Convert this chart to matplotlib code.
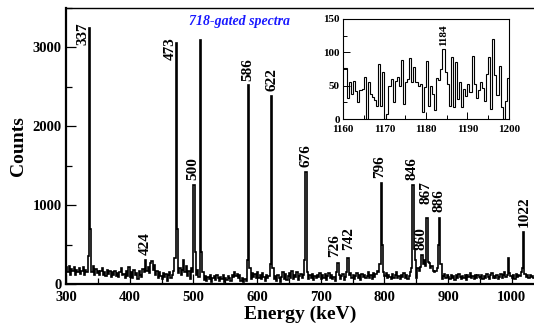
import numpy as np
import matplotlib
matplotlib.use("Agg")
import matplotlib.pyplot as plt
from matplotlib.ticker import MultipleLocator

plt.rcParams['font.family'] = ['Liberation Serif', 'DejaVu Serif']

# main spectrum: 2 keV bins starting at 300 keV
E_START, BIN = 300, 2
counts = [
    # 300-348
    210, 150, 230, 120, 190, 160, 220, 110, 180, 150, 200, 130, 170, 210, 120, 180, 150, 360, 3250, 700, 150, 230, 120, 190, 140,
    # 350-398
    170, 110, 160, 200, 120, 150, 100, 180, 130, 160, 90, 150, 120, 170, 100, 140, 90, 150, 200, 110, 130, 80, 160, 100, 210,
    # 400-448
    90, 150, 70, 180, 110, 140, 60, 170, 120, 90, 190, 150, 300, 170, 220, 140, 260, 290, 180, 240, 120, 170, 80, 150, 100,
    # 450-498
    60, 140, 90, 130, 40, 120, 150, 70, 110, 160, 330, 3060, 700, 140, 200, 110, 180, 310, 150, 230, 100, 170, 60, 200, 150,
    # 500-548
    1253, 400, 120, 180, 90, 3100, 400, 150, 50, 100, 40, 90, 60, 110, 30, 80, 100, 50, 120, 70, 40, 90, 60, 110, 30,
    # 550-598
    80, 50, 100, 70, 40, 120, 90, 150, 100, 130, 80, 110, 40, 70, 30, 60, 40, 300, 2520, 200, 60, 140, 90, 130, 70,
    # 600-648
    150, 80, 120, 60, 140, 90, 40, 110, 70, 100, 250, 2390, 200, 60, 100, 40, 120, 70, 30, 90, 150, 60, 130, 50, 100,
    # 650-698
    140, 80, 160, 60, 120, 90, 150, 50, 100, 130, 70, 110, 300, 1420, 150, 60, 110, 80, 130, 50, 100, 70, 120, 90, 140,
    # 700-748
    60, 110, 80, 130, 50, 100, 140, 70, 110, 60, 90, 40, 150, 265, 110, 60, 100, 130, 50, 90, 150, 330, 110, 140, 70,
    # 750-798
    120, 60, 100, 140, 80, 110, 50, 130, 90, 120, 70, 100, 150, 80, 120, 60, 140, 90, 130, 170, 150, 250, 1280, 500, 150,
    # 800-848
    100, 140, 70, 120, 90, 60, 130, 80, 110, 150, 70, 100, 60, 120, 90, 140, 80, 110, 60, 100, 150, 200, 1250, 450, 300,
    # 850-898
    80, 200, 170, 220, 365, 250, 300, 230, 835, 280, 260, 200, 230, 170, 150, 160, 200, 500, 835, 250, 60, 100, 130, 80, 110,
    # 900-948
    90, 60, 120, 80, 100, 50, 110, 70, 130, 90, 60, 100, 80, 120, 50, 110, 90, 140, 70, 100, 60, 120, 80, 110, 90,
    # 950-998
    70, 120, 60, 100, 80, 130, 90, 60, 110, 140, 80, 100, 70, 120, 60, 90, 130, 80, 110, 150, 90, 120, 330, 140, 100,
    # 1000-1034
    80, 110, 60, 130, 90, 120, 100, 150, 200, 660, 130, 90, 110, 70, 120, 90, 100, 80,
]

# peak labels: text, x (keV), y (counts) of the label's lower end
peak_labels = ["337", "424", "473", "500", "586", "622", "676", "726", "742",
               "796", "846", "860", "867", "886", "1022"]
label_x = [327, 424, 463, 499, 586, 623, 677, 722, 744, 793, 843, 857, 865, 886, 1019]
label_y = [3030, 370, 2840, 1320, 2580, 2450, 1480, 340, 430, 1340, 1320, 430, 1020, 910, 720]

# inset: 0.5 keV bins from 1160 keV
IN_START, IN_BIN = 1160, 0.5
inset_counts = [
    77, 76, 32, 55, 38, 57, 42, 25, 43, 45,
    63, 0, 55, 37, 33, 28, 20, 82, 19, 70,
    0, 8, 50, 60, 25, 57, 63, 50, 88, 22,
    55, 60, 92, 55, 78, 55, 50, 52, 10, 48,
    87, 20, 50, 37, 13, 62, 58, 75, 105, 70,
    52, 20, 93, 18, 85, 30, 56, 18, 45, 35,
    52, 40, 95, 52, 32, 43, 55, 47, 27, 67,
    93, 15, 120, 66, 36, 80, 18, 0, 27, 62,
]

fig = plt.figure(figsize=(5.34, 3.27), dpi=100)
ax = fig.add_axes([0.1236, 0.1315, 0.8764, 0.8440])

edges = E_START + BIN * np.arange(len(counts) + 1)
ax.stairs(counts, edges, color='black', linewidth=1.2, baseline=None)

ax.set_xlim(300, 1035)
ax.set_ylim(0, 3500)
ax.xaxis.set_major_locator(MultipleLocator(100))
ax.xaxis.set_minor_locator(MultipleLocator(50))
ax.yaxis.set_major_locator(MultipleLocator(1000))
ax.yaxis.set_minor_locator(MultipleLocator(500))
ax.tick_params(which='both', direction='in', top=False, right=False, labelsize=10.5)
ax.tick_params(axis='x', pad=5)
ax.tick_params(axis='y', pad=3)
ax.tick_params(which='major', length=7, width=0.9)
ax.tick_params(which='minor', length=4, width=0.9)
for lab in ax.get_xticklabels() + ax.get_yticklabels():
    lab.set_fontweight('bold')
for s in ['left', 'bottom']:
    ax.spines[s].set_linewidth(1.6)
ax.spines['top'].set_linewidth(1.0)
ax.spines['right'].set_visible(False)

ax.set_xlabel('Energy (keV)', fontsize=14, fontweight='bold', labelpad=1)
ax.set_ylabel('Counts', fontsize=14, fontweight='bold', labelpad=4)

for t, x, y in zip(peak_labels, label_x, label_y):
    ax.text(x, y, t, rotation=90, ha='center', va='bottom', fontsize=11,
            fontweight='bold')

ax.text(573, 3330, '718-gated spectra', color='#1a1aff', fontsize=10,
        fontweight='bold', fontstyle='italic', ha='center', va='center')

# inset
axi = fig.add_axes([0.642, 0.636, 0.311, 0.306])
in_edges = IN_START + IN_BIN * np.arange(len(inset_counts) + 1)
axi.stairs(inset_counts, in_edges, color='black', linewidth=0.8, baseline=None)
axi.set_xlim(1160, 1200)
axi.set_ylim(0, 150)
axi.xaxis.set_major_locator(MultipleLocator(10))
axi.xaxis.set_minor_locator(MultipleLocator(5))
axi.yaxis.set_major_locator(MultipleLocator(50))
axi.yaxis.set_minor_locator(MultipleLocator(25))
axi.tick_params(which='both', direction='in', labelsize=8)
axi.tick_params(axis='x', pad=4)
axi.tick_params(axis='y', pad=2)
axi.tick_params(which='major', length=5, width=0.7)
axi.tick_params(which='minor', length=3, width=0.7)
for lab in axi.get_xticklabels() + axi.get_yticklabels():
    lab.set_fontweight('bold')
for s in axi.spines.values():
    s.set_linewidth(0.8)
axi.text(1184.2, 109, '1184', rotation=90, ha='center', va='bottom', fontsize=8,
         fontweight='bold')

fig.savefig('out.png', dpi=100)
